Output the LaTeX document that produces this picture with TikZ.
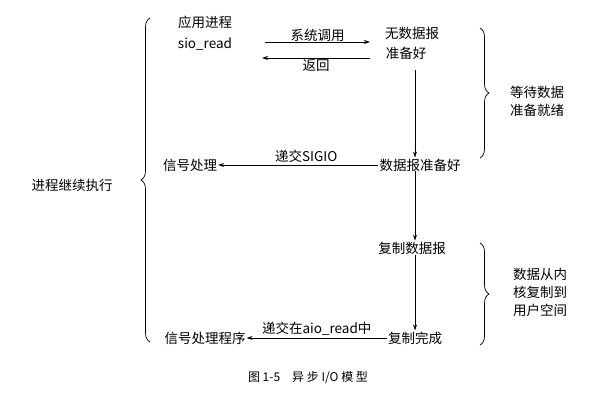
\documentclass[tikz,border=0pt]{standalone}
\usepackage{fontspec}
\setmainfont{Liberation Sans}
\newfontfamily\cjk{Noto Sans CJK SC}
\usetikzlibrary{decorations.pathreplacing,arrows.meta}
\begin{document}
\begin{tikzpicture}[x=1pt,y=-1pt,
  lbl/.style={font=\cjk\fontsize{13.5}{18}\selectfont, inner sep=1pt},
  arr/.style={-{Stealth[length=6pt,width=4pt]}, line width=0.7pt},
  br/.style={decorate, decoration={brace, amplitude=9pt}, line width=0.7pt}]
\useasboundingbox (0,0) rectangle (616,401);
\node[lbl] (app) at (205,22) {应用进程};
\node[lbl] (sio) at (205,44) {sio\_read};
\node[lbl] (nd1) at (412,33) {无数据报};
\node[lbl] (nd2) at (406,53) {准备好};
\coordinate (a1s) at (265,42); \coordinate (a1e) at (370,42);
\draw[arr] (a1s) -- node[lbl,above=-1pt] {系统调用} (a1e);
\coordinate (a2s) at (370,58); \coordinate (a2e) at (262,58);
\draw[arr] (a2s) -- node[lbl,below=0pt] {返回} (a2e);
\node[lbl] (ready) at (420,165) {数据报准备好};
\draw[arr] (415,70) -- (ready.north -| 415,0);
\node[lbl] (sig) at (190,165) {信号处理};
\draw[arr] (ready.west) -- node[lbl,above=1pt,pos=0.45] {递交SIGIO} (sig.east);
\node[lbl] (copy) at (412,248) {复制数据报};
\draw[arr] (copy.north -| 415,0) ++(0,-70) -- (copy.north -| 415,0);
\node[lbl] (done) at (415,338) {复制完成};
\draw[arr] (copy.south -| 415,0) -- (done.north -| 415,0);
\node[lbl] (handler) at (205,338) {信号处理程序};
\draw[arr] (done.west) -- node[lbl,above=1pt] {递交在aio\_read中} (handler.east);
\draw[br] (480,28) -- (480,158);
\node[lbl,align=left] (w) at (537,101) {等待数据\\准备就绪};
\draw[br] (480,243) -- (480,345);
\node[lbl,align=left] (c) at (540,292) {数据从内\\核复制到\\用户空间};
\draw[br] (150,342) -- (150,18);
\node[lbl] (cont) at (72,185) {进程继续执行};
\node[font=\cjk\fontsize{12}{14}\selectfont] (cap) at (308,378) {图 1-5\quad 异 步 I/O 模 型};
\end{tikzpicture}
\end{document}
